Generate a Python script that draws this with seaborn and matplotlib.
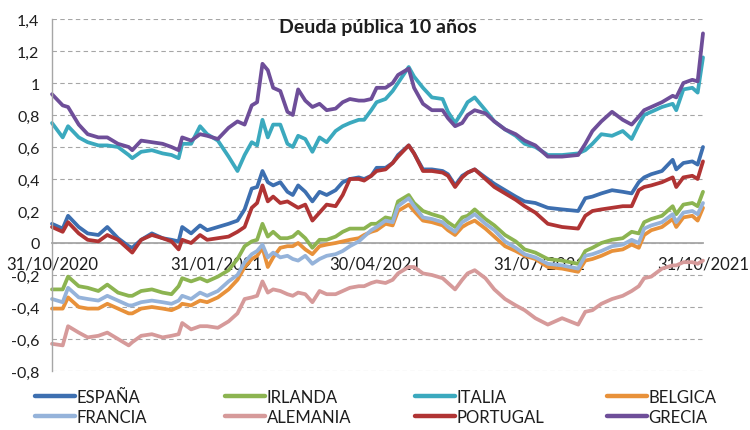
import matplotlib
matplotlib.use('Agg')
import matplotlib.pyplot as plt
import matplotlib.ticker as mticker
from matplotlib.lines import Line2D
import numpy as np
import pandas as pd
import seaborn as sns

# ---- data (days since 31/10/2020) ----
dias = [0, 6, 9, 15, 20, 26, 31, 37, 43, 45,
        50, 56, 62, 67, 71, 73, 78, 83, 87, 93,
        99, 104, 108, 112, 115, 118, 121, 124, 128, 132,
        135, 138, 142, 146, 150, 154, 159, 163, 167, 172,
        175, 179, 182, 187, 191, 194, 200, 203, 208, 213,
        219, 222, 226, 230, 233, 237, 243, 248, 254, 260,
        265, 271, 278, 286, 295, 299, 303, 308, 314, 320,
        325, 329, 332, 336, 342, 348, 350, 354, 359, 362,
        365]

espana = [0.12, 0.09, 0.17, 0.10, 0.06, 0.05, 0.10, 0.03, -0.02, -0.03,
          0.02, 0.06, 0.03, 0.02, 0.01, 0.10, 0.06, 0.11, 0.08, 0.10,
          0.12, 0.14, 0.21, 0.34, 0.35, 0.45, 0.38, 0.36, 0.38, 0.32,
          0.30, 0.36, 0.32, 0.26, 0.32, 0.30, 0.33, 0.38, 0.40, 0.41,
          0.40, 0.42, 0.47, 0.47, 0.50, 0.55, 0.61, 0.56, 0.46, 0.46,
          0.45, 0.43, 0.36, 0.42, 0.44, 0.46, 0.41, 0.37, 0.33, 0.29,
          0.26, 0.25, 0.22, 0.21, 0.20, 0.28, 0.29, 0.31, 0.33, 0.32,
          0.31, 0.38, 0.41, 0.43, 0.45, 0.52, 0.46, 0.50, 0.51, 0.49,
          0.60]

irlanda = [-0.29, -0.29, -0.21, -0.27, -0.28, -0.30, -0.26, -0.31, -0.33, -0.33,
           -0.30, -0.29, -0.31, -0.32, -0.27, -0.22, -0.24, -0.22, -0.24, -0.21,
           -0.17, -0.10, -0.02, 0.01, 0.02, 0.12, 0.04, 0.07, 0.03, 0.03,
           0.04, 0.07, 0.03, -0.03, 0.02, 0.02, 0.04, 0.07, 0.09, 0.09,
           0.09, 0.12, 0.12, 0.16, 0.15, 0.26, 0.30, 0.25, 0.20, 0.18,
           0.16, 0.13, 0.10, 0.16, 0.17, 0.21, 0.15, 0.11, 0.05, 0.01,
           -0.04, -0.06, -0.10, -0.11, -0.13, -0.05, -0.03, 0.00, 0.02, 0.03,
           0.07, 0.06, 0.13, 0.15, 0.17, 0.23, 0.18, 0.24, 0.25, 0.23,
           0.32]

italia = [0.75, 0.66, 0.73, 0.66, 0.63, 0.61, 0.61, 0.60, 0.55, 0.53,
          0.57, 0.58, 0.56, 0.55, 0.53, 0.62, 0.62, 0.73, 0.68, 0.64,
          0.54, 0.45, 0.55, 0.63, 0.61, 0.77, 0.66, 0.74, 0.74, 0.62,
          0.60, 0.67, 0.65, 0.57, 0.66, 0.63, 0.70, 0.73, 0.75, 0.77,
          0.77, 0.83, 0.88, 0.90, 0.95, 1.00, 1.10, 1.04, 0.97, 0.91,
          0.90, 0.82, 0.75, 0.82, 0.88, 0.91, 0.83, 0.76, 0.71, 0.67,
          0.62, 0.60, 0.55, 0.55, 0.56, 0.58, 0.62, 0.68, 0.67, 0.70,
          0.65, 0.74, 0.80, 0.82, 0.85, 0.87, 0.83, 0.96, 0.97, 0.94,
          1.16]

belgica = [-0.41, -0.41, -0.34, -0.40, -0.41, -0.41, -0.38, -0.41, -0.44, -0.44,
           -0.41, -0.40, -0.41, -0.42, -0.40, -0.38, -0.39, -0.36, -0.37, -0.34,
           -0.29, -0.23, -0.15, -0.10, -0.08, -0.03, -0.15, -0.09, -0.03, -0.02,
           -0.02, 0.00, -0.04, -0.07, -0.02, -0.01, 0.00, 0.01, 0.02, 0.03,
           0.05, 0.07, 0.08, 0.12, 0.11, 0.20, 0.24, 0.20, 0.14, 0.13,
           0.11, 0.08, 0.05, 0.10, 0.12, 0.14, 0.09, 0.04, -0.02, -0.05,
           -0.08, -0.10, -0.15, -0.16, -0.18, -0.11, -0.10, -0.08, -0.05, -0.04,
           -0.01, -0.03, 0.05, 0.08, 0.10, 0.15, 0.10, 0.16, 0.17, 0.14,
           0.22]

francia = [-0.35, -0.37, -0.28, -0.34, -0.35, -0.36, -0.33, -0.36, -0.39, -0.39,
           -0.37, -0.36, -0.37, -0.38, -0.36, -0.33, -0.35, -0.31, -0.33, -0.30,
           -0.24, -0.20, -0.12, -0.07, -0.05, -0.01, -0.09, -0.06, -0.09, -0.08,
           -0.10, -0.11, -0.08, -0.13, -0.10, -0.08, -0.07, -0.05, -0.02, 0.01,
           0.04, 0.08, 0.10, 0.14, 0.13, 0.23, 0.28, 0.23, 0.16, 0.15,
           0.13, 0.10, 0.07, 0.13, 0.15, 0.18, 0.12, 0.08, 0.01, -0.03,
           -0.07, -0.09, -0.13, -0.14, -0.16, -0.08, -0.07, -0.05, -0.02, -0.01,
           0.02, 0.00, 0.09, 0.11, 0.13, 0.18, 0.13, 0.19, 0.20, 0.18,
           0.25]

alemania = [-0.63, -0.64, -0.52, -0.56, -0.59, -0.58, -0.56, -0.60, -0.64, -0.62,
            -0.58, -0.57, -0.59, -0.58, -0.57, -0.50, -0.54, -0.52, -0.52, -0.53,
            -0.49, -0.44, -0.35, -0.34, -0.33, -0.24, -0.31, -0.29, -0.30, -0.32,
            -0.33, -0.31, -0.32, -0.37, -0.30, -0.32, -0.32, -0.30, -0.28, -0.27,
            -0.27, -0.25, -0.24, -0.25, -0.23, -0.19, -0.15, -0.15, -0.19, -0.20,
            -0.22, -0.25, -0.29, -0.23, -0.19, -0.17, -0.22, -0.29, -0.35, -0.39,
            -0.42, -0.47, -0.51, -0.47, -0.51, -0.43, -0.42, -0.38, -0.35, -0.33,
            -0.30, -0.27, -0.22, -0.21, -0.16, -0.14, -0.14, -0.12, -0.12, -0.13,
            -0.11]

portugal = [0.10, 0.07, 0.13, 0.06, 0.02, 0.01, 0.05, 0.02, -0.04, -0.06,
            0.02, 0.05, 0.03, 0.01, -0.04, 0.02, 0.00, 0.05, 0.02, 0.03,
            0.04, 0.07, 0.10, 0.22, 0.25, 0.36, 0.26, 0.29, 0.25, 0.26,
            0.24, 0.22, 0.24, 0.14, 0.19, 0.24, 0.23, 0.30, 0.40, 0.40,
            0.39, 0.42, 0.45, 0.46, 0.50, 0.54, 0.61, 0.56, 0.45, 0.45,
            0.44, 0.42, 0.35, 0.41, 0.44, 0.46, 0.40, 0.35, 0.31, 0.27,
            0.23, 0.19, 0.12, 0.10, 0.09, 0.17, 0.20, 0.21, 0.22, 0.23,
            0.23, 0.33, 0.35, 0.36, 0.38, 0.41, 0.35, 0.41, 0.42, 0.40,
            0.51]

grecia = [0.93, 0.86, 0.85, 0.74, 0.68, 0.66, 0.66, 0.62, 0.60, 0.58,
          0.64, 0.63, 0.62, 0.60, 0.58, 0.66, 0.64, 0.68, 0.67, 0.65,
          0.72, 0.76, 0.74, 0.86, 0.88, 1.12, 1.08, 0.97, 0.95, 0.82,
          0.80, 0.96, 0.89, 0.85, 0.87, 0.83, 0.84, 0.88, 0.90, 0.89,
          0.89, 0.90, 0.97, 0.97, 1.00, 1.05, 1.09, 0.97, 0.87, 0.83,
          0.83, 0.78, 0.73, 0.75, 0.80, 0.83, 0.81, 0.76, 0.71, 0.68,
          0.64, 0.61, 0.54, 0.54, 0.55, 0.62, 0.70, 0.76, 0.82, 0.77,
          0.74, 0.79, 0.83, 0.85, 0.88, 0.92, 0.91, 1.00, 1.02, 1.01,
          1.31]

paises = ['ESPAÑA', 'IRLANDA', 'ITALIA', 'BELGICA',
          'FRANCIA', 'ALEMANIA', 'PORTUGAL', 'GRECIA']
colores = ['#3D6FB0', '#8CB451', '#3BA9BE', '#E8913A',
           '#95B3DA', '#D69A9A', '#B03434', '#6E4E99']

tick_fechas = ['2020-10-31', '2021-01-31', '2021-04-30', '2021-07-31', '2021-10-31']
tick_etiquetas = ['31/10/2020', '31/01/2021', '30/04/2021', '31/07/2021', '31/10/2021']
y_ticks = [-0.8, -0.6, -0.4, -0.2, 0.0, 0.2, 0.4, 0.6, 0.8, 1.0, 1.2, 1.4]
titulo = 'Deuda pública 10 años'

# ---- build frame ----
inicio = pd.Timestamp('2020-10-31')
fechas = inicio + pd.to_timedelta(dias, unit='D')
valores = dict(zip(paises, [espana, irlanda, italia, belgica,
                            francia, alemania, portugal, grecia]))
df = pd.DataFrame({
    'fecha': np.tile(fechas.values, len(paises)),
    'pais': np.repeat(paises, len(dias)),
    'valor': np.concatenate([valores[p] for p in paises]),
})

sns.set_theme(style='white')
plt.rcParams['font.family'] = ['Lato', 'DejaVu Sans']
texto = '#1e1e1e'
gris = '#A6A6A6'

W, H = 750, 431
fig = plt.figure(figsize=(W / 100, H / 100), dpi=100)
fig.patch.set_facecolor('white')
ax = fig.add_axes([52 / W, 1 - 372 / H, 651 / W, 352 / H])

sns.lineplot(data=df, x='fecha', y='valor', hue='pais', hue_order=paises,
             palette=colores, linewidth=2.7, legend=False, ax=ax,
             estimator=None, errorbar=None, clip_on=False,
             solid_joinstyle='round', solid_capstyle='round')

ax.set_xlim(inicio, pd.Timestamp('2021-10-31'))
ax.set_ylim(-0.8, 1.4)
ax.set_yticks(y_ticks)


def fmt(v, pos):
    s = f'{v:.1f}'.replace('.', ',')
    if s.endswith(',0'):
        s = s[:-2]
    if s == '-0':
        s = '0'
    return s


ax.yaxis.set_major_formatter(mticker.FuncFormatter(fmt))
ax.yaxis.grid(True, linestyle=(0, (4, 3)), color=gris, linewidth=0.8)
ax.xaxis.grid(False)
ax.set_axisbelow(True)

ax.set_xticks(pd.to_datetime(tick_fechas))
ax.set_xticklabels(tick_etiquetas)
ax.set_xlabel('')
ax.set_ylabel('')

for s in ['top', 'right']:
    ax.spines[s].set_visible(False)
ax.spines['left'].set_color(gris)
ax.spines['left'].set_linewidth(1.0)
ax.spines['bottom'].set_position(('data', 0))
ax.spines['bottom'].set_color(gris)
ax.spines['bottom'].set_linewidth(1.3)
ax.spines['bottom'].set_zorder(1.5)

ax.tick_params(axis='y', length=0, pad=9, labelsize=11.5, labelcolor=texto)
ax.tick_params(axis='x', direction='out', length=4, width=1, color=gris,
               pad=5, labelsize=12, labelcolor=texto)

fig.text(378 / W, 1 - 27 / H, titulo, ha='center', va='center',
         fontsize=14, fontweight='bold', color=texto)

# legend: 4 columns, 2 rows (row-wise order as in original)
xs_col = [35, 225, 415, 607]
for i in range(4):
    pares = [paises[i], paises[i + 4]]
    handles = [Line2D([0], [0], color=colores[paises.index(p)], lw=3.2)
               for p in pares]
    fig.legend(handles=handles, labels=pares, loc='center left',
               bbox_to_anchor=(xs_col[i] / W, 1 - 408 / H), frameon=False,
               fontsize=12, handlelength=2.4, handletextpad=0.1,
               borderpad=0, borderaxespad=0, labelspacing=0.25,
               labelcolor=texto)

fig.savefig('out.png', dpi=100, facecolor='white')
